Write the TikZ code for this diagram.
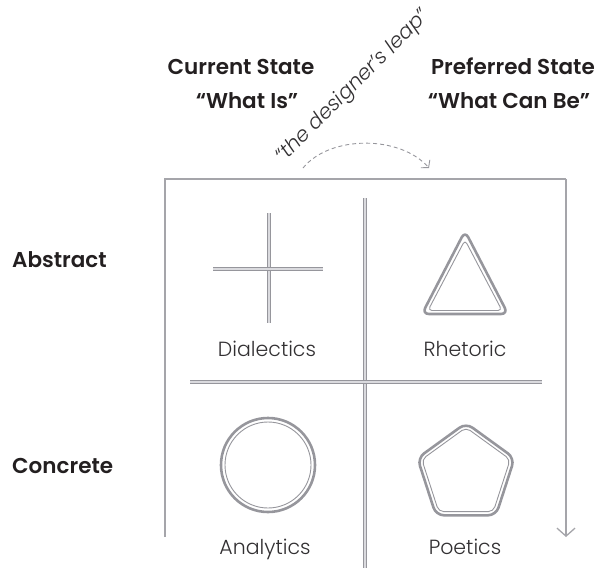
\documentclass[tikz,border=0pt]{standalone}
\usepackage{fontspec}
\setmainfont{Poppins}
\newfontfamily\lightf{Poppins Light}
\newfontfamily\lightit{Poppins Light Italic}
\newfontfamily\semif{Poppins SemiBold}
\usetikzlibrary{arrows.meta}
\definecolor{txt}{RGB}{35,31,32}
\definecolor{quadtxt}{RGB}{50,48,50}
\definecolor{linegray}{RGB}{150,150,156}
\definecolor{framegray}{RGB}{165,165,170}
\definecolor{dblfill}{RGB}{218,218,222}
\begin{document}
\begin{tikzpicture}[x=1pt,y=-1pt,
  head/.style={font=\semif\fontsize{21.5}{24}\selectfont, text=txt, inner sep=0, anchor=base},
  quad/.style={font=\lightf\fontsize{20.5}{24}\selectfont, text=quadtxt, inner sep=0, anchor=base},
  leap/.style={font=\lightit\fontsize{20.5}{24}\selectfont, text=quadtxt, inner sep=0},
  frame/.style={draw=framegray, line width=1.3},
  divider/.style={draw=linegray, line width=1.1, double=dblfill, double distance=2.6},
  shapeout/.style={draw=linegray, line width=2.6, line join=round},
  shapein/.style={draw=linegray, line width=0.9, line join=round},
  leaparrow/.style={draw=linegray, line width=0.9, dash pattern=on 4pt off 3pt, -{Straight Barb[length=5,width=12]}}
]
\useasboundingbox (0,0) rectangle (598,568);

% headings
\node[head] (cur1) at (241,74) {Current State};
\node[head] (cur2) at (247,108) {“What Is”};
\node[head] (pre1) at (513,74) {Preferred State};
\node[head] (pre2) at (509,108) {“What Can Be”};
\node[head, anchor=base west] (abs) at (12,267) {Abstract};
\node[head, anchor=base west] (con) at (12,473) {Concrete};

% the leap
\node[leap, rotate=45] (leaptxt) at (353,87) {“the designer’s leap”};
\coordinate (l0) at (303,168);
\coordinate (l1) at (429,168);
\draw[leaparrow] (l0) .. controls (330,135) and (400,135) .. (l1);

% frame
\coordinate (ftl) at (165,179);
\coordinate (ftr) at (566,179);
\coordinate (fbl) at (165,537);
\coordinate (fbr) at (566,537);
\draw[frame] (fbl) -- (ftl) -- (ftr);
\draw[frame, -{Straight Barb[length=8,width=18]}] (ftr) -- (fbr);

% dividers
\coordinate (vt) at (365,198);
\coordinate (vb) at (365,570);
\coordinate (hl) at (190,382);
\coordinate (hr) at (542,382);
\draw[divider] (vt) -- (vb);
\draw[divider] (hl) -- (hr);

% cross
\coordinate (ct) at (269,213);
\coordinate (cb) at (269,323);
\coordinate (cl) at (213,269);
\coordinate (cr) at (323,269);
\draw[divider] (ct) -- (cb);
\draw[divider] (cl) -- (cr);

% triangle
\draw[shapeout, rounded corners=7] (465,231) -- (508,314) -- (422,314) -- cycle;
\draw[shapein, rounded corners=4] (465,240) -- (502,310.5) -- (428,310.5) -- cycle;

% circle
\draw[shapeout] (268,465) circle (47);
\draw[shapein] (268,465) circle (43);

% pentagon
\draw[shapeout, rounded corners=8] (466,423) -- (514.5,458.2) -- (496,515.3) -- (436,515.3) -- (417.5,458.2) -- cycle;
\draw[shapein, rounded corners=5] (466,427.5) -- (510.2,459.5) -- (493.3,511.6) -- (438.7,511.6) -- (421.8,459.5) -- cycle;

% quadrant labels
\node[quad] (dia) at (267,356) {Dialectics};
\node[quad] (rhe) at (465,356) {Rhetoric};
\node[quad] (ana) at (265,554) {Analytics};
\node[quad] (poe) at (465,554) {Poetics};
\end{tikzpicture}
\end{document}
